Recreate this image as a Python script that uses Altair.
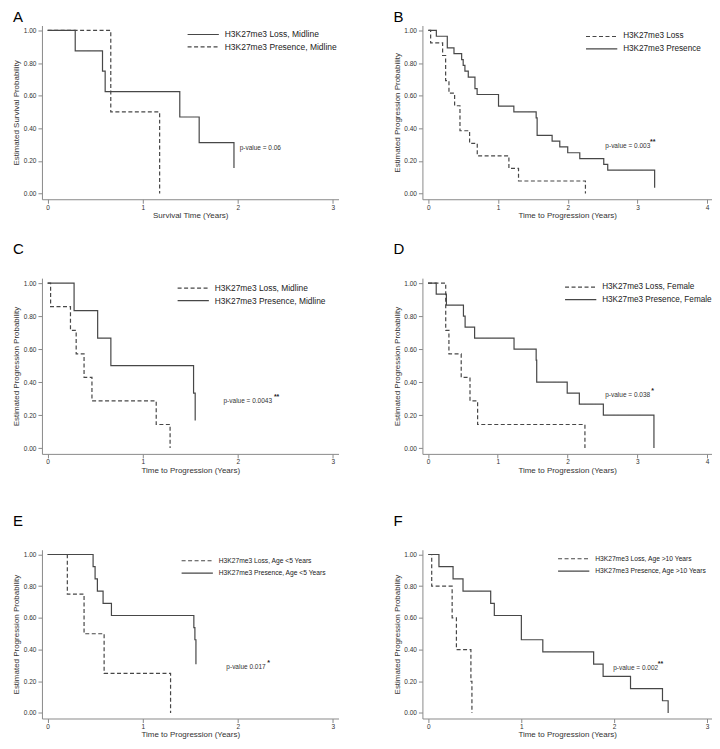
import altair as alt
import pandas as pd

FONT = "Liberation Sans"
LINE = "#474747"

# ---------------- data ----------------
# Panel A: survival, midline
A_loss_t = [0, 0.29, 0.577, 0.605, 1.39, 1.594, 1.96]
A_loss_s = [1.0, 0.875, 0.75, 0.625, 0.469, 0.3125, 0.156]
A_pres_t = [0, 0.664, 1.178]
A_pres_s = [1.0, 0.5, 0.0]

# Panel B: progression, all
B_loss_t = [0, 0.033, 0.205, 0.248, 0.296, 0.377, 0.454, 0.592, 0.702, 1.156, 1.294, 2.254]
B_loss_s = [1.0, 0.923, 0.846, 0.692, 0.615, 0.538, 0.385, 0.308, 0.231, 0.154, 0.077, 0.0]
B_pres_t = [0, 0.115, 0.272, 0.368, 0.478, 0.50, 0.525, 0.573, 0.669, 0.70, 1.007, 1.227,
            1.547, 1.561, 1.776, 1.886, 2.0, 2.173, 2.517, 2.574, 3.247]
B_pres_s = [1.0, 0.964, 0.893, 0.857, 0.821, 0.786, 0.75, 0.714, 0.643, 0.607, 0.536, 0.50,
            0.464, 0.357, 0.321, 0.286, 0.25, 0.214, 0.179, 0.143, 0.036]

# Panel C: progression, midline
C_loss_t = [0, 0.031, 0.24, 0.30, 0.383, 0.466, 1.142, 1.288]
C_loss_s = [1.0, 0.857, 0.714, 0.571, 0.429, 0.286, 0.143, 0.0]
C_pres_t = [0, 0.278, 0.526, 0.665, 1.535, 1.552]
C_pres_s = [1.0, 0.833, 0.667, 0.5, 0.333, 0.167]

# Panel D: progression, female
D_loss_t = [0, 0.254, 0.30, 0.476, 0.602, 0.711, 2.249]
D_loss_s = [1.0, 0.714, 0.571, 0.429, 0.286, 0.143, 0.0]
D_pres_t = [0, 0.118, 0.264, 0.508, 0.532, 0.668, 1.233, 1.55, 1.558, 1.995, 2.169, 2.513, 3.238]
D_pres_s = [1.0, 0.933, 0.867, 0.80, 0.733, 0.667, 0.60, 0.533, 0.40, 0.333, 0.267, 0.20, 0.0]

# Panel E: progression, age < 5
E_loss_t = [0, 0.207, 0.383, 0.594, 1.293]
E_loss_s = [1.0, 0.75, 0.5, 0.25, 0.0]
E_pres_t = [0, 0.478, 0.499, 0.523, 0.583, 0.671, 1.538, 1.549, 1.56]
E_pres_s = [1.0, 0.923, 0.846, 0.769, 0.692, 0.615, 0.538, 0.462, 0.308]

# Panel F: progression, age > 10
F_loss_t = [0, 0.036, 0.256, 0.302, 0.458, 0.469]
F_loss_s = [1.0, 0.8, 0.6, 0.4, 0.2, 0.0]
F_pres_t = [0, 0.114, 0.266, 0.373, 0.671, 0.71, 1.001, 1.232, 1.779, 1.881, 2.176, 2.52, 2.581]
F_pres_s = [1.0, 0.923, 0.846, 0.769, 0.692, 0.615, 0.462, 0.385, 0.308, 0.231, 0.154, 0.077, 0.0]

# p-value annotations: text, x, y, stars, stars x
P_TEXT = ["p-value = 0.06", "p-value = 0.003", "p-value = 0.0043",
          "p-value = 0.038", "p-value 0.017", "p-value = 0.002"]
P_X = [2.02, 2.54, 1.85, 2.54, 1.88, 1.99]
P_Y = [0.28, 0.29, 0.283, 0.32, 0.287, 0.285]
P_STARS = ["", "**", "**", "*", "*", "**"]
P_STARS_X = [0, 3.18, 2.38, 3.20, 2.31, 2.47]

Y_TICKS = [0, 0.2, 0.4, 0.6, 0.8, 1.0]

SOLID = [1, 0]
DASH = [4, 2.5]


def km_df(loss_label, loss_t, loss_s, pres_label, pres_t, pres_s):
    rows = []
    for label, ts, ss in ((loss_label, loss_t, loss_s), (pres_label, pres_t, pres_s)):
        for t, s in zip(ts, ss):
            rows.append({"t": t, "s": s, "series": label})
    return pd.DataFrame(rows)


def panel(i, letter, loss_label, loss_t, loss_s, pres_label, pres_t, pres_s, loss_solid,
          xmax, xdomain, width, height, xtitle, ytitle, leg_x, leg_y, leg_font, title_offset):
    df = km_df(loss_label, loss_t, loss_s, pres_label, pres_t, pres_s)
    xscale = alt.Scale(domain=xdomain, nice=False, zero=False)
    yscale = alt.Scale(domain=[-0.035, 1.03], nice=False, zero=False)
    xaxis = alt.Axis(values=list(range(xmax + 1)), format="d", title=xtitle)
    yaxis = alt.Axis(values=Y_TICKS, format=".2f", title=ytitle)
    rng = [SOLID, DASH] if loss_solid else [DASH, SOLID]
    line = alt.Chart(df).mark_line(
        interpolate="step-after", color=LINE, strokeWidth=1.2
    ).encode(
        x=alt.X("t:Q", scale=xscale, axis=xaxis),
        y=alt.Y("s:Q", scale=yscale, axis=yaxis),
        strokeDash=alt.StrokeDash(
            "series:N",
            scale=alt.Scale(domain=[loss_label, pres_label], range=rng),
            legend=alt.Legend(
                orient="none", legendX=leg_x, legendY=leg_y, title=None,
                symbolType="stroke", symbolSize=980, symbolStrokeWidth=1.2,
                symbolStrokeColor=LINE, clipHeight=10, rowPadding=2.5,
                labelOffset=5, labelFontSize=leg_font, labelFont=FONT,
                labelColor="#222222", padding=0, labelLimit=300,
            ),
        ),
    )
    ann = pd.DataFrame({"x": [P_X[i]], "y": [P_Y[i]], "label": [P_TEXT[i]]})
    txt = alt.Chart(ann).mark_text(
        align="left", baseline="middle", fontSize=6.5, font=FONT, color="#333333"
    ).encode(
        x=alt.X("x:Q", scale=xscale, axis=xaxis),
        y=alt.Y("y:Q", scale=yscale, axis=yaxis),
        text="label:N",
    )
    layers = [line, txt]
    if P_STARS[i]:
        st = pd.DataFrame({"x": [P_STARS_X[i]], "y": [P_Y[i]], "label": [P_STARS[i]]})
        layers.append(
            alt.Chart(st).mark_text(
                align="left", baseline="middle", fontSize=7, font=FONT,
                color="#222222", dy=-4, fontWeight="bold"
            ).encode(
                x=alt.X("x:Q", scale=xscale, axis=xaxis),
                y=alt.Y("y:Q", scale=yscale, axis=yaxis),
                text="label:N",
            )
        )
    return alt.layer(*layers).properties(
        width=width, height=height,
        title=alt.TitleParams(text=letter, anchor="start", fontSize=15, font=FONT,
                              fontWeight="normal", color="black", offset=title_offset),
    )


LW, RW = 297, 290
XT = "Time to Progression (Years)"
YT = "Estimated Progression Probability"

pA = panel(0, "A", "H3K27me3 Loss, Midline", A_loss_t, A_loss_s,
           "H3K27me3 Presence, Midline", A_pres_t, A_pres_s, True,
           3, [-0.06, 3.06], LW, 174, "Survival Time (Years)", "Estimated Survival Probability",
           145, 4, 8.5, 0)
pB = panel(1, "B", "H3K27me3 Loss", B_loss_t, B_loss_s,
           "H3K27me3 Presence", B_pres_t, B_pres_s, False,
           4, [-0.085, 4.07], RW, 174, XT, YT, 163, 6, 8.2, 0)
pC = panel(2, "C", "H3K27me3 Loss, Midline", C_loss_t, C_loss_s,
           "H3K27me3 Presence, Midline", C_pres_t, C_pres_s, False,
           3, [-0.06, 3.06], LW, 176, XT, YT, 135, 5, 8.4, 21)
pD = panel(3, "D", "H3K27me3 Loss, Female", D_loss_t, D_loss_s,
           "H3K27me3 Presence, Female", D_pres_t, D_pres_s, False,
           4, [-0.08, 4.07], RW, 176, XT, YT, 142, 4, 8.2, 21)
pE = panel(4, "E", "H3K27me3 Loss, Age <5 Years", E_loss_t, E_loss_s,
           "H3K27me3 Presence, Age <5 Years", E_pres_t, E_pres_s, False,
           3, [-0.06, 3.06], LW, 169, XT, YT, 139, 6, 6.7, 21)
pF = panel(5, "F", "H3K27me3 Loss, Age >10 Years", F_loss_t, F_loss_s,
           "H3K27me3 Presence, Age >10 Years", F_pres_t, F_pres_s, False,
           3, [-0.064, 3.053], RW, 169, XT, YT, 135, 4, 6.7, 21)


def row(a, b):
    return alt.hconcat(a, b, spacing=54).resolve_scale(
        x="independent", y="independent", strokeDash="independent"
    ).resolve_legend(strokeDash="independent")


top = alt.vconcat(row(pA, pB), row(pC, pD), spacing=22).resolve_scale(
    x="independent", y="independent", strokeDash="independent"
).resolve_legend(strokeDash="independent")

chart = alt.vconcat(top, row(pE, pF), spacing=39).resolve_scale(
    x="independent", y="independent", strokeDash="independent"
).resolve_legend(strokeDash="independent").properties(
    padding={"left": 4, "top": 2, "right": 0, "bottom": 0}
).configure_view(
    strokeWidth=0
).configure_axis(
    grid=False, labelFont=FONT, titleFont=FONT, labelFontSize=6.5, titleFontSize=8,
    titleFontWeight="normal", labelColor="#333333", titleColor="#333333",
    domainColor="#8a8a8a", tickColor="#8a8a8a", tickSize=4, domainWidth=1, tickWidth=1,
).configure_axisX(
    labelPadding=1, titlePadding=1,
).configure_axisY(
    labelPadding=2, titlePadding=2.4,
).configure_title(
    font=FONT
)

chart.save("out.html", embed_options={"renderer": "svg", "actions": False})
